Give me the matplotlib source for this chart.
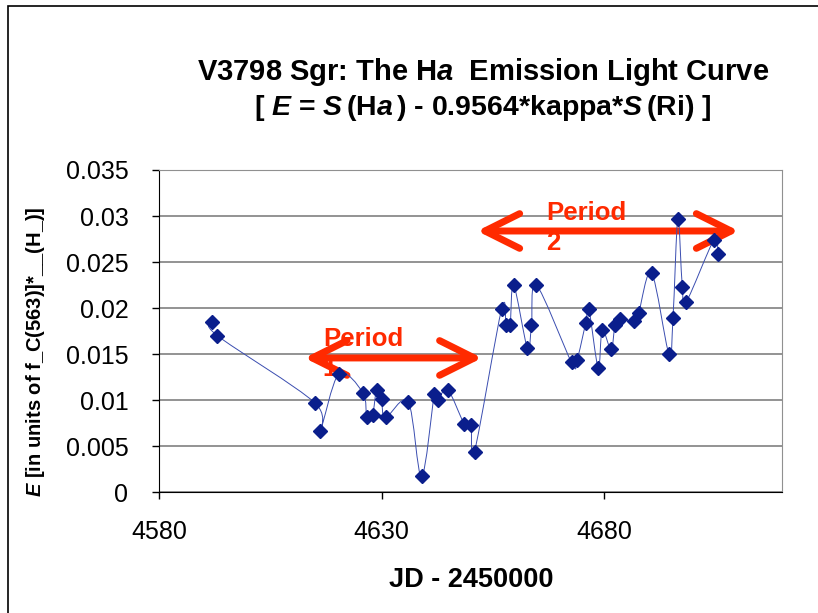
import matplotlib
matplotlib.use("Agg")
import matplotlib.pyplot as plt
from matplotlib.path import Path
from matplotlib.patches import PathPatch, Rectangle

plt.rcParams['font.family'] = ['Liberation Sans', 'DejaVu Sans']
plt.rcParams['mathtext.fontset'] = 'custom'
plt.rcParams['mathtext.it'] = 'Liberation Sans:italic:bold'
plt.rcParams['mathtext.rm'] = 'Liberation Sans:bold'
plt.rcParams['mathtext.bf'] = 'Liberation Sans:bold'

# JD - 2450000 and emission E
jd = [4592.0, 4593.1, 4615.0, 4616.1, 4620.4, 4625.8, 4626.7, 4628.0, 4628.9,
      4630.0, 4630.9, 4636.0, 4639.0, 4641.9, 4642.6, 4644.9, 4648.6, 4650.1,
      4650.9, 4657.0, 4658.0, 4658.9, 4659.7, 4662.8, 4663.7, 4664.8, 4672.7,
      4673.9, 4675.9, 4676.6, 4678.7, 4679.6, 4681.6, 4682.5, 4683.7, 4686.7,
      4687.8, 4690.7, 4694.6, 4695.5, 4696.6, 4697.6, 4698.5, 4704.7, 4705.6]
emission = [0.0185, 0.0170, 0.0097, 0.0066, 0.0128, 0.0108, 0.0081, 0.0084,
            0.0111, 0.0101, 0.0081, 0.0098, 0.0017, 0.0107, 0.0100, 0.0111,
            0.0074, 0.0073, 0.0044, 0.0199, 0.0181, 0.0181, 0.0225, 0.0156,
            0.0181, 0.0225, 0.0141, 0.0143, 0.0184, 0.0199, 0.0135, 0.0176,
            0.0155, 0.0182, 0.0188, 0.0186, 0.0195, 0.0238, 0.0150, 0.0189,
            0.0297, 0.0223, 0.0207, 0.0274, 0.0259]

x_ticks = [4580, 4630, 4680]
y_ticks = [0, 0.005, 0.01, 0.015, 0.02, 0.025, 0.03, 0.035]
y_tick_labels = ['0', '0.005', '0.01', '0.015', '0.02', '0.025', '0.03', '0.035']

# period markers: (label, start JD, end JD, level, text x, text y)
periods = [("Period\n1", 4612.7, 4652.6, 0.01457, 4616.8, 0.0150),
           ("Period\n2", 4651.5, 4710.3, 0.02837, 4667.0, 0.0287)]

fig = plt.figure(figsize=(8.18, 6.13), dpi=100)
ax = fig.add_axes([159 / 818, 1 - 492 / 613, (782 - 159) / 818, (492 - 170) / 613])

# smoothed line like Excel (cubic bezier through the points)
pts = list(zip(jd, emission))
verts = [pts[0]]
codes = [Path.MOVETO]
n = len(pts)
for i in range(n - 1):
    p0 = pts[i - 1] if i > 0 else pts[i]
    p1 = pts[i]
    p2 = pts[i + 1]
    p3 = pts[i + 2] if i + 2 < n else pts[i + 1]
    c1 = (p1[0] + (p2[0] - p0[0]) / 6, p1[1] + (p2[1] - p0[1]) / 6)
    c2 = (p2[0] - (p3[0] - p1[0]) / 6, p2[1] - (p3[1] - p1[1]) / 6)
    verts += [c1, c2, p2]
    codes += [Path.CURVE4] * 3
ax.add_patch(PathPatch(Path(verts, codes), fill=False, edgecolor='#3a4db0',
                       lw=0.7, zorder=4))
ax.plot(jd, emission, linestyle='none', marker='D', ms=7.5, color='#0a1e8c',
        markeredgecolor='#0a1e8c', zorder=5)

for label, x0, x1, lvl, tx, ty in periods:
    ax.annotate("", xy=(x1, lvl), xytext=(x0, lvl),
                arrowprops=dict(arrowstyle="<->,head_length=2.5,head_width=1.25",
                                color='#ff2a00', lw=5, shrinkA=0, shrinkB=0,
                                mutation_scale=10), zorder=3)
    ax.text(tx, ty, label, color='#ff2a00', fontsize=18.5, fontweight='bold',
            ha='left', va='center', linespacing=1.3, zorder=2)

ax.set_xlim(4580, 4720)
ax.set_ylim(0, 0.035)
ax.set_xticks(x_ticks)
ax.set_yticks(y_ticks)
ax.set_yticklabels(y_tick_labels)
ax.tick_params(axis='both', direction='out', length=5, width=1, labelsize=18)
ax.tick_params(axis='x', pad=15)
ax.tick_params(axis='y', pad=17)
ax.grid(True, axis='y', color='#808080', lw=1.2)
ax.set_axisbelow(True)
for side in ['top', 'right']:
    ax.spines[side].set_color('#909090')
for side in ['left', 'bottom']:
    ax.spines[side].set_color('black')

fig.text(483 / 818, 1 - 72 / 613,
         r"V3798 Sgr: The H$\mathit{a}$  Emission Light Curve",
         ha='center', va='center', fontsize=21, fontweight='bold')
fig.text(483 / 818, 1 - 108 / 613,
         r"[ $\mathit{E}$ = $\mathit{S}\,$(H$\mathit{a}\,$) - 0.9564*kappa*$\mathit{S}\,$(Ri) ]",
         ha='center', va='center', fontsize=20.5, fontweight='bold')
fig.text(471 / 818, 1 - 580 / 613, "JD - 2450000", ha='center', va='center',
         fontsize=19.5, fontweight='bold')
fig.text(36 / 818, 1 - 352 / 613, r"$\mathit{E}$ [in units of f_C(563)]*__(H_)]",
         ha='center', va='center', rotation=90, fontsize=14.5, fontweight='bold')

fig.patches.append(Rectangle((8 / 818, -0.1), 1.2, 1.1 - 6 / 613, fill=False,
                             edgecolor='black', lw=1.2, transform=fig.transFigure))

fig.savefig("out.png", dpi=100)
